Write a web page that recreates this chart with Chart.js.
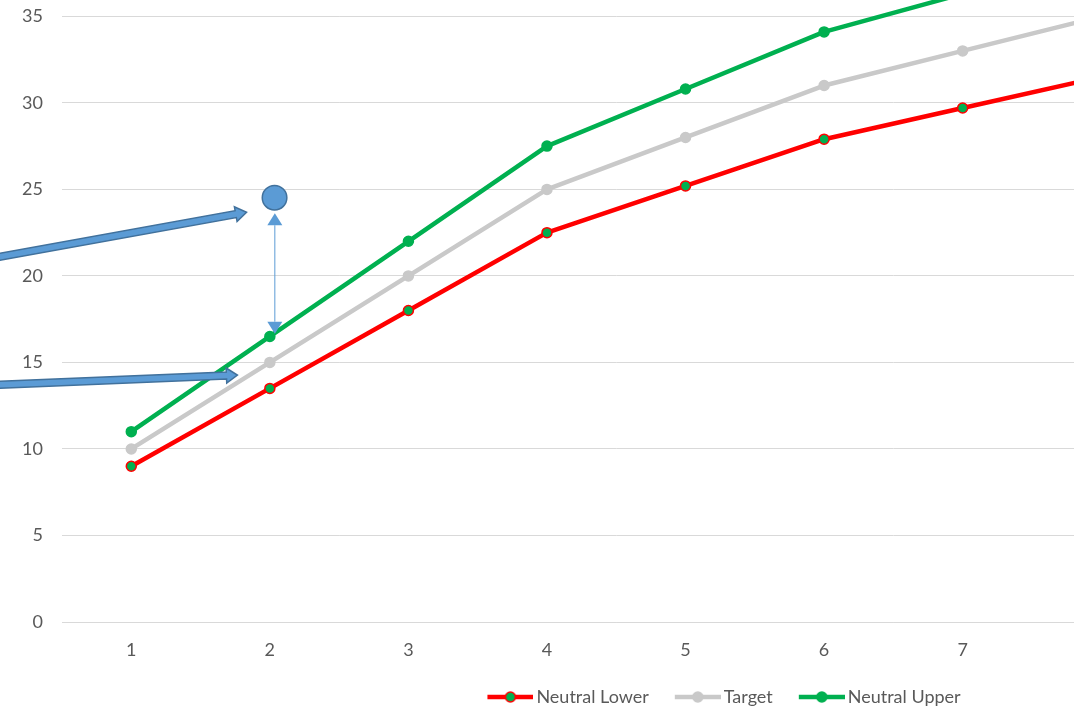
<!DOCTYPE html>
<html>
<head>
<meta charset="utf-8">
<script src="https://cdn.jsdelivr.net/npm/chart.js@4.4.1/dist/chart.umd.min.js"></script>
<style>
  html, body { margin: 0; padding: 0; background: #fff; overflow: hidden; width: 1074px; height: 709px; }
  #wrap { position: absolute; left: 0; top: -100px; width: 1177px; height: 820px; }
</style>
</head>
<body>
<div id="wrap"><canvas id="c" width="1177" height="820"></canvas></div>
<script>
// Series values per period
const categories   = ['1', '2', '3', '4', '5', '6', '7', '8'];
const neutralLower = [9, 13.5, 18, 22.5, 25.2, 27.9, 29.7, 31.5];
const target       = [10, 15, 20, 25, 28, 31, 33, 35];
const neutralUpper = [11, 16.5, 22, 27.5, 30.8, 34.1, 36.3, 38.5];
const yMin = 0, yMax = 40, yStep = 5;

// Callout shapes, placed in (category index, value) units
const blockArrows = [
  { from: [-1.236, 20.69], to: [0.832, 23.68] },
  { from: [-1.236, 13.62], to: [0.766, 14.27] }
];
const bubble = { at: [1.034, 24.52] };
const spanArrow = { x: 1.036, from: 23.62, to: 16.66 };

const TEXT = '#595959';
const GRID = '#d9d9d9';
const RED = '#ff0000', GREY = '#c9c9c9', GREEN = '#00b050';
const FONT = { family: 'Lato, "Open Sans", sans-serif', size: 18 };

// Legend swatch: a short line with a marker on it
function legendGlyph(line, fill, border) {
  const c = document.createElement('canvas');
  c.width = 68; c.height = 14;
  const g = c.getContext('2d');
  g.strokeStyle = line; g.lineWidth = 4.5;
  g.beginPath(); g.moveTo(22, 7); g.lineTo(68, 7); g.stroke();
  g.beginPath(); g.arc(45, 7, 5, 0, Math.PI * 2);
  g.fillStyle = fill; g.fill();
  g.lineWidth = 1.5; g.strokeStyle = border; g.stroke();
  return c;
}
const glyphs = [
  legendGlyph(RED, GREEN, RED),
  legendGlyph(GREY, GREY, GREY),
  legendGlyph(GREEN, GREEN, GREEN)
];

// Blue arrows, marker bubble and the span arrow between bubble and line
const callouts = {
  id: 'callouts',
  afterDatasetsDraw(chart) {
    const { ctx, scales: { x, y } } = chart;
    const px = i => x.getPixelForValue(i);
    const py = v => y.getPixelForValue(v);
    ctx.save();

    blockArrows.forEach(a => {
      const x0 = px(a.from[0]), y0 = py(a.from[1]);
      const x1 = px(a.to[0]), y1 = py(a.to[1]);
      const ang = Math.atan2(y1 - y0, x1 - x0);
      const len = Math.hypot(x1 - x0, y1 - y0);
      const shaft = 3.5, head = 7.5, headLen = 11;
      ctx.save();
      ctx.translate(x0, y0);
      ctx.rotate(ang);
      ctx.beginPath();
      ctx.moveTo(0, -shaft);
      ctx.lineTo(len - headLen, -shaft);
      ctx.lineTo(len - headLen, -head);
      ctx.lineTo(len, 0);
      ctx.lineTo(len - headLen, head);
      ctx.lineTo(len - headLen, shaft);
      ctx.lineTo(0, shaft);
      ctx.closePath();
      ctx.fillStyle = '#5b9bd5';
      ctx.fill();
      ctx.lineWidth = 1.5;
      ctx.strokeStyle = '#41719c';
      ctx.lineJoin = 'miter';
      ctx.stroke();
      ctx.restore();
    });

    // span arrow
    const sx = px(spanArrow.x);
    const sTop = py(spanArrow.from), sBot = py(spanArrow.to);
    const hl = 12, hw = 7.5;
    ctx.strokeStyle = '#5b9bd5';
    ctx.fillStyle = '#5b9bd5';
    ctx.lineWidth = 1;
    ctx.beginPath();
    ctx.moveTo(sx, sTop + hl);
    ctx.lineTo(sx, sBot - hl);
    ctx.stroke();
    ctx.beginPath();
    ctx.moveTo(sx, sTop); ctx.lineTo(sx - hw, sTop + hl); ctx.lineTo(sx + hw, sTop + hl); ctx.closePath();
    ctx.fill();
    ctx.beginPath();
    ctx.moveTo(sx, sBot); ctx.lineTo(sx - hw, sBot - hl); ctx.lineTo(sx + hw, sBot - hl); ctx.closePath();
    ctx.fill();

    // bubble
    ctx.beginPath();
    ctx.arc(px(bubble.at[0]), py(bubble.at[1]), 12.3, 0, Math.PI * 2);
    ctx.fillStyle = '#5b9bd5';
    ctx.fill();
    ctx.lineWidth = 1.5;
    ctx.strokeStyle = '#41719c';
    ctx.stroke();

    ctx.restore();
  }
};

// Centre the legend under the full chart width rather than the plot area
const legendSpan = {
  id: 'legendSpan',
  afterLayout(chart) {
    const lg = chart.legend;
    lg.left = 0;
    lg.right = 1432;
    lg.width = 1432;
  }
};

function series(label, data, line, fill, border) {
  return {
    label, data,
    borderColor: line,
    backgroundColor: line,
    borderWidth: 4.5,
    borderCapStyle: 'round',
    borderJoinStyle: 'round',
    tension: 0,
    pointRadius: 5,
    pointHoverRadius: 5,
    pointBackgroundColor: fill,
    pointBorderColor: border,
    pointBorderWidth: 1.5
  };
}

function draw() {
  new Chart(document.getElementById('c'), {
    type: 'line',
    data: {
      labels: categories,
      datasets: [
        series('Neutral Lower', neutralLower, RED, GREEN, RED),
        series('Target', target, GREY, GREY, GREY),
        series('Neutral Upper', neutralUpper, GREEN, GREEN, GREEN)
      ]
    },
    options: {
      responsive: false,
      animation: false,
      layout: { padding: { top: 8.6, bottom: 4, left: 0, right: 0 } },
      plugins: {
        tooltip: { enabled: false },
        legend: {
          position: 'bottom',
          labels: {
            usePointStyle: true,
            pointStyleWidth: 56,
            padding: 10,
            color: TEXT,
            font: FONT,
            generateLabels(chart) {
              const items = Chart.defaults.plugins.legend.labels.generateLabels(chart);
              items.forEach((it, i) => { it.pointStyle = glyphs[i]; });
              return items;
            }
          }
        }
      },
      scales: {
        x: {
          offset: true,
          grid: { display: false, drawTicks: false, offset: true },
          border: { display: true, color: GRID, width: 1 },
          ticks: { color: TEXT, font: FONT, padding: 17.2, maxRotation: 0, autoSkip: false },
          afterFit(s) { s.height = 56; }
        },
        y: {
          min: yMin, max: yMax,
          ticks: { stepSize: yStep, color: TEXT, font: FONT, padding: 19 },
          grid: { color: GRID, lineWidth: 1, drawTicks: false },
          border: { display: false },
          afterFit(s) { s.width = 62; }
        }
      }
    },
    plugins: [callouts, legendSpan]
  });
}

(document.fonts && document.fonts.load ? document.fonts.load('18px Lato') : Promise.resolve())
  .then(draw, draw);
</script>
</body>
</html>
